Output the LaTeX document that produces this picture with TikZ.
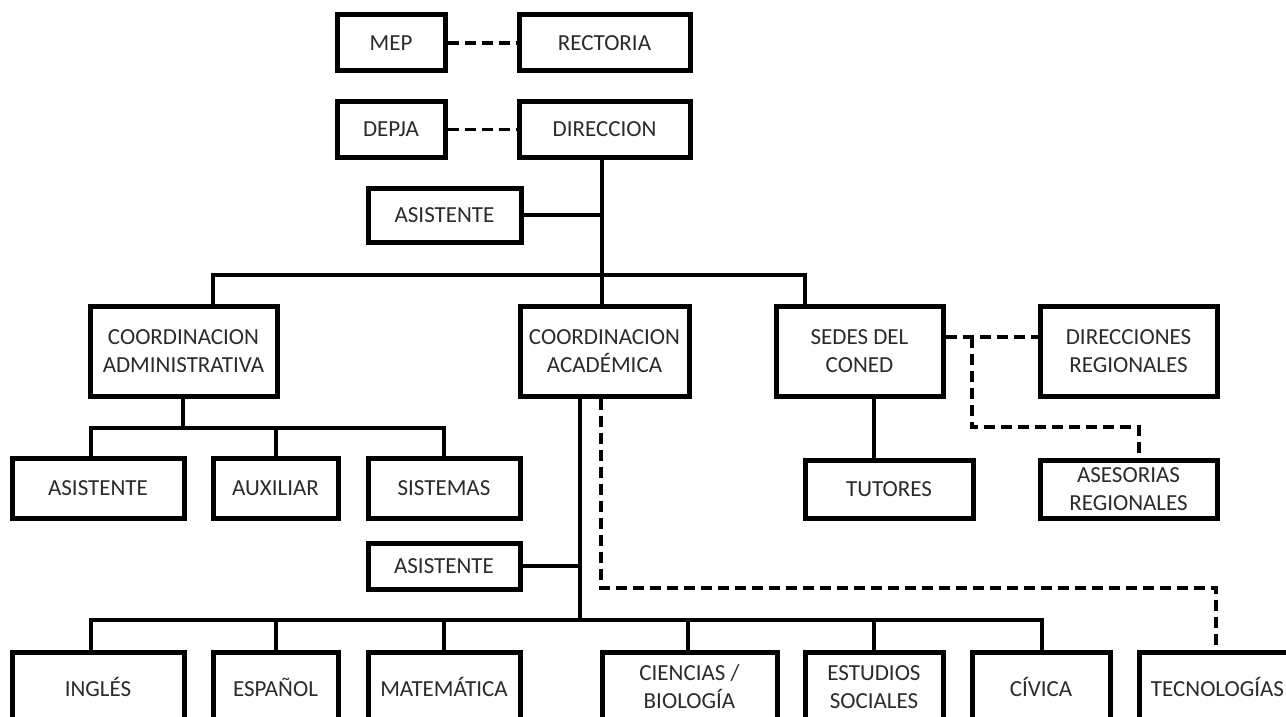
\documentclass[tikz,border=0pt]{standalone}
\usepackage{fontspec}
\setmainfont{Carlito}
\definecolor{txt}{HTML}{2B2B2B}
\begin{document}
\begin{tikzpicture}[x=1pt,y=-1pt,
  box/.style={draw=black, line width=5pt, fill=white, inner sep=0pt, align=center,
    text=txt, font=\fontsize{23}{28}\selectfont},
  conn/.style={draw=black, line width=4.5pt},
  dconn/.style={draw=black, line width=3.8pt, dash pattern=on 11pt off 6pt}]
\useasboundingbox (0,0) rectangle (1286,717);
\clip (0,0) rectangle (1286,717);
\fill[white] (0,0) rectangle (1286,717);
% nodes
\node[box, minimum width=108, minimum height=56] (mep) at (391,43) {MEP};
\node[box, minimum width=171, minimum height=56] (rect) at (604.5,43) {RECTORIA};
\node[box, minimum width=108, minimum height=55] (depja) at (391,129.5) {DEPJA};
\node[box, minimum width=171, minimum height=55] (dir) at (604.5,129.5) {DIRECCION};
\node[box, minimum width=153, minimum height=54] (asis1) at (444.5,215) {ASISTENTE};
\node[box, minimum width=187, minimum height=90] (cadm) at (183.5,351) {COORDINACION\\ADMINISTRATIVA};
\node[box, minimum width=169, minimum height=90] (cacad) at (604.5,351) {COORDINACION\\ACADÉMICA};
\node[box, minimum width=167, minimum height=90] (sedes) at (859.5,351) {SEDES DEL\\CONED};
\node[box, minimum width=177, minimum height=90] (dreg) at (1128.5,351) {DIRECCIONES\\REGIONALES};
\node[box, minimum width=172, minimum height=60] (asis2) at (98,488) {ASISTENTE};
\node[box, minimum width=125, minimum height=60] (aux) at (275.5,488) {AUXILIAR};
\node[box, minimum width=152, minimum height=60] (sist) at (444,488) {SISTEMAS};
\node[box, minimum width=168, minimum height=58] (tut) at (889,489) {TUTORES};
\node[box, minimum width=177, minimum height=58] (ases) at (1128.5,489) {ASESORIAS\\REGIONALES};
\node[box, minimum width=152, minimum height=46] (asis3) at (444,566) {ASISTENTE};
\node[box, minimum width=172, minimum height=70] (ing) at (98,687) {INGLÉS};
\node[box, minimum width=125, minimum height=70] (esp) at (275.5,687) {ESPAÑOL};
\node[box, minimum width=152, minimum height=70] (mat) at (444,687) {MATEMÁTICA};
\node[box, minimum width=175, minimum height=70] (cie) at (689.5,687) {CIENCIAS /\\BIOLOGÍA};
\node[box, minimum width=138, minimum height=70] (est) at (874,687) {ESTUDIOS\\SOCIALES};
\node[box, minimum width=138, minimum height=70] (civ) at (1041,687) {CÍVICA};
\node[box, minimum width=157, minimum height=70] (tec) at (1217.5,687) {TECNOLOGÍAS};
% junction coordinates
\coordinate (jB) at (602,275);
\coordinate (bL) at (213,275);
\coordinate (bR) at (805,275);
\coordinate (a0) at (183,428);
\coordinate (a1) at (91,428);
\coordinate (a2) at (276,428);
\coordinate (a3) at (444,428);
\coordinate (kB) at (580,620);
\coordinate (b1) at (91,620);
\coordinate (b2) at (276,620);
\coordinate (b3) at (444,620);
\coordinate (b4) at (688,620);
\coordinate (b5) at (874,620);
\coordinate (b6) at (1042,620);
\coordinate (d1) at (601,588);
\coordinate (d2) at (1216,588);
\coordinate (s1) at (972,337);
\coordinate (s2) at (972,427);
\coordinate (s3) at (1139,427);
\coordinate (t1) at (874,420);
% connectors
\draw[dconn] (mep.east) -- (rect.west);
\draw[dconn] (depja.east) -- (dir.west);
\draw[conn] (dir.south -| jB) -- (jB);
\draw[conn] (asis1.east) -- (asis1.east -| jB);
\draw[conn] (cadm.north -| bL) -- (bL) -- (bR) -- (sedes.north -| bR);
\draw[conn] (jB) -- (cacad.north -| jB);
\draw[conn] (cadm.south -| a0) -- (a0);
\draw[conn] (asis2.north -| a1) -- (a1) -- (a3) -- (sist.north -| a3);
\draw[conn] (a2) -- (aux.north -| a2);
\draw[conn] (cacad.south -| kB) -- (kB);
\draw[conn] (asis3.east) -- (asis3.east -| kB);
\draw[conn] (ing.north -| b1) -- (b1) -- (b6) -- (civ.north -| b6);
\draw[conn] (b2) -- (esp.north -| b2);
\draw[conn] (b3) -- (mat.north -| b3);
\draw[conn] (b4) -- (cie.north -| b4);
\draw[conn] (b5) -- (est.north -| b5);
\draw[dconn] (cacad.south -| d1) -- (d1) -- (d2) -- (tec.north -| d2);
\draw[conn] (sedes.south -| t1) -- (tut.north -| t1);
\draw[dconn] (sedes.east |- s1) -- (dreg.west |- s1);
\draw[dconn] (s1) -- (s2) -- (s3) -- (ases.north -| s3);
\end{tikzpicture}
\end{document}
